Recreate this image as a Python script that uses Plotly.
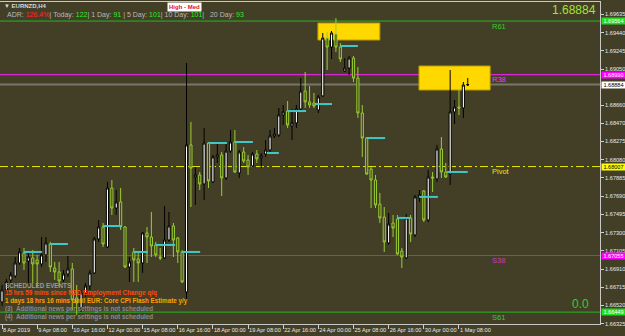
import plotly.graph_objects as go

# ---------------- data ----------------
x_tick_bars = [0, 8, 16, 24, 32, 40, 48, 56, 64, 72, 80, 88, 96, 104]
x_tick_labels = ["8 Apr 2019", "9 Apr 08:00", "10 Apr 16:00", "12 Apr 00:00", "15 Apr 08:00",
                 "16 Apr 16:00", "18 Apr 00:00", "19 Apr 08:00", "22 Apr 16:00", "24 Apr 00:00",
                 "25 Apr 08:00", "26 Apr 16:00", "30 Apr 00:00", "1 May 08:00"]

opens = [1.66558, 1.66686, 1.66793, 1.66836, 1.66975, 1.67082, 1.66996, 1.67029, 1.67007, 1.66964,
         1.67061, 1.67178, 1.66921, 1.66879, 1.66793, 1.66857, 1.66911, 1.66601, 1.66494, 1.66655,
         1.66729, 1.66868, 1.67232, 1.67360, 1.67146, 1.67777, 1.67563, 1.67628, 1.67360, 1.66932,
         1.67093, 1.67018, 1.66975, 1.67296, 1.67253, 1.67168, 1.67039, 1.67029, 1.67221, 1.67371,
         1.67243, 1.67093, 1.66665, 1.68238, 1.67895, 1.67917, 1.67821, 1.68259, 1.67843, 1.68110,
         1.68131, 1.67885, 1.68173, 1.68270, 1.67938, 1.68163, 1.68077, 1.68013, 1.68141, 1.68099,
         1.68141, 1.68184, 1.68334, 1.68345, 1.68559, 1.68601, 1.68442, 1.68474, 1.68623, 1.68815,
         1.68699, 1.68687, 1.68612, 1.68763, 1.69382, 1.69286, 1.69425, 1.69286, 1.69029, 1.69061,
         1.69168, 1.68954, 1.68580, 1.68312, 1.67981, 1.67863, 1.67606, 1.67467, 1.67189, 1.67403,
         1.67446, 1.67103, 1.67029, 1.67457, 1.67275, 1.67671, 1.67746, 1.67435, 1.67895, 1.67874,
         1.68195, 1.67949, 1.67927, 1.68591, 1.68644, 1.68634, 1.68880]
highs = [1.66740, 1.66804, 1.66879, 1.67039, 1.67135, 1.67135, 1.67082, 1.67114, 1.67061, 1.67253,
         1.67253, 1.67200, 1.66986, 1.66986, 1.66900, 1.67050, 1.66975, 1.66740, 1.66686, 1.66761,
         1.66900, 1.67253, 1.67435, 1.67403, 1.67843, 1.67863, 1.67756, 1.67777, 1.67371, 1.67039,
         1.67135, 1.67082, 1.67307, 1.67360, 1.67521, 1.67200, 1.67135, 1.67585, 1.67521, 1.67403,
         1.67253, 1.67114, 1.69115, 1.68485, 1.68002, 1.67949, 1.68420, 1.68270, 1.68131, 1.68259,
         1.68163, 1.68270, 1.68398, 1.68398, 1.68184, 1.68216, 1.68131, 1.68163, 1.68184, 1.68152,
         1.68291, 1.68398, 1.68420, 1.68634, 1.68666, 1.68708, 1.68623, 1.68666, 1.68954, 1.69019,
         1.68869, 1.68794, 1.68773, 1.69436, 1.69447, 1.69457, 1.69596, 1.69329, 1.69168, 1.69190,
         1.69190, 1.69072, 1.68666, 1.68323, 1.68002, 1.67917, 1.67725, 1.67574, 1.67510, 1.67489,
         1.67489, 1.67135, 1.67499, 1.67489, 1.67703, 1.67756, 1.67756, 1.67970, 1.67949, 1.68238,
         1.68323, 1.68045, 1.69040, 1.68719, 1.68826, 1.68912, 1.68954]
lows = [1.66516, 1.66644, 1.66761, 1.66815, 1.66954, 1.66900, 1.66718, 1.66761, 1.66718, 1.66932,
        1.66986, 1.66879, 1.66793, 1.66718, 1.66772, 1.66825, 1.66472, 1.66420, 1.66451, 1.66612,
        1.66686, 1.66857, 1.67200, 1.67146, 1.67135, 1.67489, 1.67489, 1.67328, 1.66921, 1.66772,
        1.66772, 1.66772, 1.66868, 1.66975, 1.67039, 1.67039, 1.67007, 1.67018, 1.67200, 1.67039,
        1.66975, 1.66761, 1.66558, 1.67574, 1.67596, 1.67756, 1.67649, 1.67777, 1.67831, 1.68045,
        1.67692, 1.67863, 1.68152, 1.67938, 1.67885, 1.68045, 1.67917, 1.68002, 1.68045, 1.67991,
        1.68110, 1.68163, 1.68312, 1.68323, 1.68452, 1.68420, 1.68291, 1.68420, 1.68612, 1.68634,
        1.68634, 1.68634, 1.68580, 1.68752, 1.69040, 1.69158, 1.69233, 1.69126, 1.69019, 1.68987,
        1.68912, 1.68527, 1.68110, 1.67917, 1.67563, 1.67563, 1.67403, 1.67093, 1.67168, 1.67253,
        1.67061, 1.66921, 1.67018, 1.67200, 1.67253, 1.67628, 1.67414, 1.67414, 1.67735, 1.67843,
        1.67885, 1.67885, 1.67810, 1.68463, 1.68559, 1.68527, 1.68869]
closes = [1.66686, 1.66772, 1.66847, 1.66975, 1.67093, 1.66975, 1.67039, 1.66964, 1.66964, 1.67061,
          1.67189, 1.66932, 1.66879, 1.66782, 1.66857, 1.66911, 1.66579, 1.66548, 1.66655, 1.66729,
          1.66868, 1.67232, 1.67360, 1.67178, 1.67777, 1.67563, 1.67628, 1.67360, 1.66932, 1.66986,
          1.67007, 1.66975, 1.67296, 1.67253, 1.67157, 1.67061, 1.67029, 1.67221, 1.67371, 1.67221,
          1.67093, 1.66772, 1.68238, 1.67991, 1.67917, 1.67821, 1.68259, 1.67853, 1.68110, 1.68131,
          1.67885, 1.68173, 1.68270, 1.67949, 1.68163, 1.68067, 1.68002, 1.68141, 1.68089, 1.68121,
          1.68184, 1.68334, 1.68355, 1.68559, 1.68591, 1.68452, 1.68474, 1.68623, 1.68815, 1.68699,
          1.68666, 1.68655, 1.68752, 1.69382, 1.69286, 1.69436, 1.69286, 1.69158, 1.69061, 1.69168,
          1.68954, 1.68580, 1.68312, 1.67927, 1.67863, 1.67596, 1.67457, 1.67200, 1.67392, 1.67349,
          1.67071, 1.67039, 1.67457, 1.67285, 1.67682, 1.67703, 1.67435, 1.67895, 1.67885, 1.68195,
          1.67949, 1.67895, 1.68591, 1.68644, 1.68634, 1.68880, 1.68884]

# pivot levels
level_names = ["R61", "R38", "Pivot", "S38", "S61"]
level_values = [1.69564, 1.68990, 1.68007, 1.67055, 1.66449]
current_price = 1.68884

# cyan indicator segments (bar start, bar end, price)
cyan_start = [5, 11, 23, 30, 35, 41, 47, 53, 60.3, 65, 71.2, 77, 83, 90, 95, 101.3]
cyan_end = [9.1, 15, 27.1, 33.2, 39.4, 45.1, 51.2, 57.1, 63, 69.2, 75.1, 81, 87.2, 92.9, 99.2, 106]
cyan_price = [1.67093, 1.67178, 1.67371, 1.67093, 1.67168, 1.67093, 1.68259, 1.68270, 1.68152,
              1.68601, 1.68676, 1.69297, 1.68312, 1.67457, 1.67682, 1.67949]

# supply zones
zone_x0 = [71.9, 94.9]
zone_x1 = [86.0, 111.1]
zone_top = [1.69543, 1.69083]
zone_bottom = [1.69361, 1.68826]

y_tick_values = [1.69635, 1.69440, 1.69245, 1.69050, 1.68660, 1.68470, 1.68275, 1.68080,
                 1.67885, 1.67690, 1.67495, 1.67300, 1.67105, 1.66910, 1.66715, 1.66520, 1.66325]

adr_parts = [("ADR: ", "#b8b8b8"), ("126.4%", "#ff2a2a"), ("| Today: ", "#b8b8b8"), ("122", "#22ee22"),
             ("| 1 Day: ", "#b8b8b8"), ("91", "#22ee22"), (" | 5 Day: ", "#b8b8b8"), ("101", "#22ee22"),
             ("| 10 Day: ", "#b8b8b8"), ("101", "#22ee22"), ("|   20 Day: ", "#b8b8b8"), ("93", "#22ee22")]

news_lines = [("SCHEDULED EVENTS", "#9a9a9a"),
              ("15 hrs 59 mins since NZD Employment Change q/q", "#ff4a10"),
              ("1 days 18 hrs 16 mins until EUR: Core CPI Flash Estimate y/y", "#ffa000"),
              ("(3)  Additional news per settings is not scheduled", "#8a8a8a"),
              ("(4)  Additional news per settings is not scheduled", "#8a8a8a")]

# ---------------- style ----------------
BG = "#433f27"
FONT = "Liberation Sans"
W, H = 625, 336
ML, MR, MT, MB = 0, 25, 2, 12
PW, PH = W - ML - MR, H - MT - MB


def px(x):
    return (x - ML) / PW


def py(y):
    return (H - MB - y) / PH


bars = list(range(len(opens)))

fig = go.Figure()

fig.add_trace(go.Candlestick(
    x=bars, open=opens, high=highs, low=lows, close=closes,
    increasing=dict(line=dict(color="#000000", width=1), fillcolor="#ffffff"),
    decreasing=dict(line=dict(color="#9acd32", width=1), fillcolor=BG),
    whiskerwidth=0, showlegend=False, hoverinfo="skip"))

# cyan segments
cx, cy = [], []
for s, e, p in zip(cyan_start, cyan_end, cyan_price):
    cx += [s, e, None]
    cy += [p, p, None]
fig.add_trace(go.Scatter(x=cx, y=cy, mode="lines", line=dict(color="#3ec8c8", width=2),
                         hoverinfo="skip", showlegend=False))

shapes = []
for x0, x1, t, b in zip(zone_x0, zone_x1, zone_top, zone_bottom):
    shapes.append(dict(type="rect", xref="x", yref="y", x0=x0, x1=x1, y0=b, y1=t,
                       fillcolor="#ffd800", line=dict(color="#b89c00", width=1), layer="below"))

level_colors = ["#22b822", "#ff20ff", "#e8e800", "#a034a0", "#22b822"]
level_dash = ["solid", "solid", "8px,3px,2px,3px", "solid", "solid"]
for v, c, d in zip(level_values, level_colors, level_dash):
    shapes.append(dict(type="line", xref="paper", yref="y", x0=0, x1=1, y0=v, y1=v,
                       line=dict(color=c, width=1, dash=d), layer="below"))
shapes.append(dict(type="line", xref="paper", yref="y", x0=0, x1=1, y0=current_price, y1=current_price,
                   line=dict(color="#77776c", width=2), layer="below"))

ann = []
# level labels
label_colors = ["#32cd32", "#ff30ff", "#e8e800", "#c040c0", "#32cd32"]
for name, v, c in zip(level_names, level_values, label_colors):
    ann.append(dict(text=name, xref="paper", yref="y", x=px(490), y=v, yshift=-5,
                    xanchor="left", yanchor="middle", showarrow=False,
                    font=dict(family=FONT, size=7.5, color=c)))

# right-axis price boxes
box_vals = [level_values[0], level_values[1], current_price, level_values[2], level_values[3], level_values[4]]
box_bg = ["#22dd22", "#ff00ff", "#ffffff", "#ffff00", "#ff00ff", "#22dd22"]
box_fg = ["#ffffff", "#ffffff", "#000000", "#000000", "#ffffff", "#ffffff"]
for v, b, f in zip(box_vals, box_bg, box_fg):
    ann.append(dict(text="%.5f" % v, xref="paper", yref="y", x=1, y=v, xshift=1,
                    xanchor="left", yanchor="middle", showarrow=False, bgcolor=b, borderpad=0,
                    width=23, align="center",
                    font=dict(family=FONT, size=5.6, color=f)))

# header
ann.append(dict(text="\u25bc <b>EURNZD,H4</b>", xref="paper", yref="paper", x=px(2), y=py(6),
                xanchor="left", yanchor="middle", showarrow=False,
                font=dict(family=FONT, size=6, color="#d8d8d8")))
ann.append(dict(text="<b>High - Med</b>", xref="paper", yref="paper", x=px(184.5), y=py(6.5),
                xanchor="center", yanchor="middle", showarrow=False, bgcolor="#ffffff", borderpad=1,
                font=dict(family=FONT, size=6, color="#e01010")))
adr_text = "".join('<span style="color:%s">%s</span>' % (c, t.replace(" ", "&nbsp;")) for t, c in adr_parts)
ann.append(dict(text=adr_text, xref="paper", yref="paper", x=px(5), y=py(14.5),
                xanchor="left", yanchor="middle", showarrow=False,
                font=dict(family=FONT, size=7, color="#b8b8b8")))
ann.append(dict(text="%.5f" % current_price, xref="paper", yref="paper", x=px(598), y=py(10),
                xanchor="right", yanchor="middle", showarrow=False,
                font=dict(family=FONT, size=12, color="#a6e232")))
ann.append(dict(text="0.0", xref="paper", yref="paper", x=px(580), y=py(303.5),
                xanchor="center", yanchor="middle", showarrow=False,
                font=dict(family=FONT, size=12, color="#32cd32")))

for k, (t, c) in enumerate(news_lines):
    ann.append(dict(text="<b>%s</b>" % t, xref="paper", yref="paper", x=px(3), y=py(285 + 8 * k),
                    xanchor="left", yanchor="middle", showarrow=False,
                    font=dict(family=FONT, size=6.3, color=c)))

fig.update_layout(
    width=W, height=H, margin=dict(l=ML, r=MR, t=MT, b=MB, autoexpand=False),
    paper_bgcolor=BG, plot_bgcolor=BG,
    shapes=shapes, annotations=ann, showlegend=False,
    xaxis=dict(range=[-0.455, 136.1], tickvals=x_tick_bars, ticktext=x_tick_labels,
               tickangle=0, automargin=False,
               ticks="outside", ticklen=4, tickcolor="#d0d0d0", tickwidth=1,
               ticklabelposition="outside right",
               tickfont=dict(family=FONT, size=5.6, color="#e8e8e8"),
               showgrid=False, zeroline=False, showline=True, linecolor="#c8c8c8", linewidth=1,
               mirror=True, rangeslider=dict(visible=False), fixedrange=True),
    yaxis=dict(range=[1.66322, 1.69768], side="right", tickvals=y_tick_values,
               ticktext=["%.5f" % v for v in y_tick_values], automargin=False,
               ticks="outside", ticklen=3, tickcolor="#d0d0d0",
               tickfont=dict(family=FONT, size=5.6, color="#e8e8e8"),
               showgrid=False, zeroline=False, showline=True, linecolor="#c8c8c8", linewidth=1,
               mirror=True, fixedrange=True),
)

fig.write_html("out.html")
